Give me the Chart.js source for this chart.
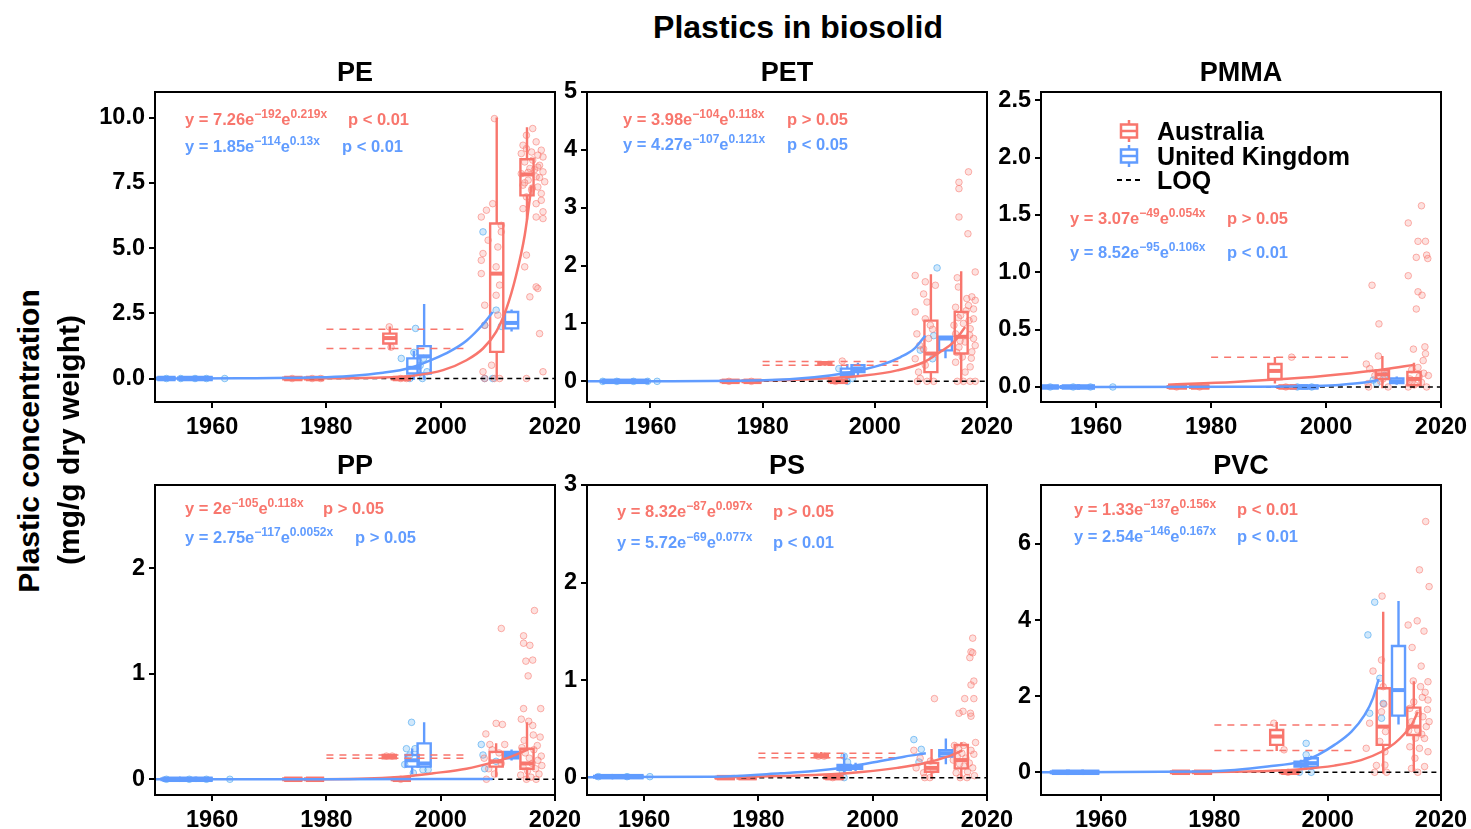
<!DOCTYPE html>
<html>
<head>
<meta charset="utf-8">
<script src="https://cdn.jsdelivr.net/npm/chart.js@4.4.1/dist/chart.umd.min.js"></script>
<style>
  html, body { margin:0; padding:0; background:#fff; }
  body { width:1471px; height:829px; position:relative; overflow:hidden;
         font-family:"Liberation Sans", Arial, Helvetica, sans-serif; }
  canvas { position:absolute; }
  .t { position:absolute; white-space:nowrap; font-weight:bold; color:#000; }
  .eq { position:absolute; white-space:pre; font-weight:bold; font-size:16.5px; line-height:20px; height:20px; }
  .eq .sp { font-size:12px; position:relative; top:-7px; }
</style>
</head>
<body>
<script>
// ---------------- DATA ----------------
const X_TICKS = [1960, 1980, 2000, 2020];
const REF_X = [1980, 2004.2];       // span of red dashed reference lines
const LOQ_X = [1977, 2020];         // span of black dashed LOQ line (y = 0)
const PANEL_NAMES = ["PE", "PET", "PMMA", "PP", "PS", "PVC"];

// boxes: [year, lower whisker, q1, median, q3, upper whisker]
// ---- PE ----
const PE_YTICKS = [0, 2.5, 5, 7.5, 10];
const PE_AU_BOX = [[1974.2,0,0,0,0,0],[1978.0,0,0,0,0,0],[1991.1,1.15,1.34,1.55,1.72,1.95],[1993.2,0,0,0,0,0],[2009.8,0,1.02,4.02,5.94,9.96],[2015.1,6.13,7.02,7.82,8.4,9.58]];
const PE_UK_BOX = [[1952.0,0,0,0,0,0],[1955.8,0,0,0,0,0],[1958.5,0,0,0,0,0],[1995.3,0,0.19,0.41,0.77,1.02],[1997.1,0,0.19,0.85,1.24,2.81],[2012.4,1.85,1.92,2.13,2.55,2.6]];
const PE_AU_CURVE = [[1972.4,0],[1989.9,0.04],[1995.7,0.12],[2000.4,0.32],[2004.5,0.7],[2007.4,1.15],[2009.7,1.79],[2011.5,2.68],[2013.2,3.96],[2014.7,5.49],[2015.9,7.4]];
const PE_UK_CURVE = [[1950,0],[1965,0.01],[1978.3,0.045],[1984.1,0.1],[1989.9,0.22],[1994.6,0.4],[1998.7,0.74],[2001.6,1.04],[2004.5,1.45],[2007.4,2.08],[2009.1,2.55]];
const PE_REF = [1.89, 1.15];
const PE_AU_PTS = [[2009.4,9.96],[2009.1,6.70],[2008.0,6.45],[2007.1,6.19],[2010.6,5.87],[2010.6,5.62],[2008.3,5.30],[2010.0,5.04],[2007.4,4.79],[2007.1,4.53],[2009.7,4.28],[2007.1,4.02],[2010.3,3.58],[2009.7,3.19],[2007.7,2.81],[2010.0,2.43],[2007.7,2.04],[2008.9,0.51],[2007.4,0.26],[2007.7,0],[2009.4,0],[2010.3,0],
 [2016.1,9.58],[2015.0,9.32],[2016.7,9.07],[2014.4,8.94],[2015.0,8.81],[2017.6,8.75],[2015.9,8.68],[2014.1,8.62],[2017.0,8.56],[2017.9,8.49],[2016.1,8.37],[2014.7,8.30],[2017.3,8.17],[2015.6,8.05],[2017.9,7.92],[2014.1,7.85],[2016.7,7.73],[2015.3,7.60],[2018.2,7.54],[2014.4,7.41],[2017.0,7.34],[2015.9,7.22],[2017.6,7.09],[2015.0,6.96],[2017.6,6.83],[2016.7,6.70],[2014.4,6.51],[2017.9,6.39],[2016.7,6.19],[2017.9,6.13],[2015.0,4.73],[2014.7,4.28],[2016.7,3.51],[2017.0,3.45],[2015.6,3.13],[2017.3,1.72],[2017.9,0.26],[2015.0,0],
 [2016.4,8.0],[2015.3,7.9],[2017.3,7.7],[2014.7,7.5],[2016.0,7.3],[2017.0,8.1],
 [1991.0,1.98],[1991.3,1.2],[1993.0,0],[1994.0,0],[1974.0,0],[1977.5,0],[1979.0,0]];
const PE_UK_PTS = [[1952.0,0],[1954.5,0],[1957.0,0],[1959.0,0],[1962.2,0],[1995.6,1.92],[1993.1,0.77],[1995.3,1.0],[1997.0,0.77],[1997.6,0.26],[1996.8,0],[1994.6,0],[1996.4,0.5],[2007.4,5.62],[2007.7,2.04],[2009.7,2.62],[2010.6,2.0],[2007.7,0],[2009.1,0]];
const PE_EQ_AU = ["7.26", "−192", "0.219x", "p < 0.01"];
const PE_EQ_UK = ["1.85", "−114", "0.13x", "p < 0.01"];

// ---- PET ----
const PET_YTICKS = [0, 1, 2, 3, 4, 5];
const PET_AU_BOX = [[1974.3,0,0,0,0,0],[1978.2,0,0,0,0,0],[1991.1,0.29,0.30,0.31,0.33,0.33],[1993.6,0,0,0,0,0],[2010.0,0,0.16,0.48,1.05,1.83],[2015.4,0,0.48,0.77,1.2,1.88]];
const PET_UK_BOX = [[1953.0,0,0,0,0,0],[1955.5,0,0,0,0,0],[1958.2,0,0,0,0,0],[1995.1,0.05,0.1,0.14,0.22,0.28],[1997.0,0.12,0.16,0.22,0.28,0.3],[2012.6,0.42,0.535,0.74,0.77,0.77]];
const PET_AU_CURVE = [[1972.6,0],[1989.2,0.04],[1998.1,0.1],[2004.0,0.19],[2008.7,0.33],[2011.7,0.51],[2014.1,0.68],[2016.1,0.94]];
const PET_UK_CURVE = [[1948.7,0],[1980.3,0.02],[1989.2,0.07],[1995.1,0.15],[2001.0,0.28],[2004.6,0.42],[2007.0,0.56],[2009.0,0.79]];
const PET_REF = [0.345, 0.276];
const PET_AU_PTS = [[2007.2,1.83],[2009.0,1.72],[2010.8,1.66],[2008.7,1.51],[2009.3,1.37],[2007.2,1.2],[2009.0,1.08],[2009.9,0.97],[2007.5,0.82],[2009.6,0.74],[2008.7,0.56],[2007.2,0.39],[2009.0,0.28],[2007.8,0.16],[2008.1,0.05],[2009.3,0],[2010.5,0],[2007.6,0],[2010.3,0.9],[2008.0,0.62],
 [2016.7,3.62],[2015.0,3.44],[2015.0,3.33],[2015.0,2.84],[2016.6,2.55],[2017.9,1.89],[2014.7,1.79],[2014.9,1.63],[2017.3,1.46],[2017.9,1.40],[2016.7,1.31],[2014.4,1.28],[2015.3,1.14],[2017.6,1.08],[2015.8,1.0],[2017.0,0.91],[2014.4,0.82],[2017.6,0.74],[2016.1,0.68],[2015.0,0.59],[2017.3,0.51],[2015.6,0.42],[2014.4,0.33],[2017.0,0.25],[2016.1,0.16],[2014.7,0],[2015.8,0],[2017.0,0],[2017.9,0],[2017.9,0.62],[2014.1,0.97],[2016.4,1.43],[2017.6,1.25],[2016.9,0.8],[2014.9,1.1],[2016.3,1.22],[2017.2,0.4],[2015.2,0.7],[2016.8,1.05],[2014.6,0.5],
 [1994.2,0.35],[1993.0,0],[1974.0,0],[1978.0,0]];
const PET_UK_PTS = [[1951.5,0],[1954.0,0],[1957.0,0],[1959.5,0],[1961.2,0],[1993.6,0.22],[1994.5,0.09],[1995.1,0],[1996.0,0.05],[2011.1,1.96],[2010.5,0.79],[2008.1,0.54],[2010.3,0.39]];
const PET_EQ_AU = ["3.98", "−104", "0.118x", "p > 0.05"];
const PET_EQ_UK = ["4.27", "−107", "0.121x", "p < 0.05"];

// ---- PMMA ----
const PMMA_YTICKS = [0, 0.5, 1, 1.5, 2, 2.5];
const PMMA_AU_BOX = [[1974.2,0,0,0,0,0],[1978.1,0,0,0,0,0],[1991.1,0.04,0.07,0.14,0.2,0.25],[1993.3,0,0,0,0,0],[2009.8,0,0.07,0.11,0.145,0.26],[2015.3,0,0.015,0.07,0.13,0.2]];
const PMMA_UK_BOX = [[1951.9,0,0,0,0,0],[1955.6,0,0,0,0,0],[1958.2,0,0,0,0,0],[1995.3,0,0,0,0,0],[1997.1,0,0,0,0,0],[2012.3,0.03,0.035,0.05,0.075,0.08]];
const PMMA_AU_CURVE = [[1972.5,0.02],[1984.0,0.044],[1995.7,0.08],[2004.4,0.12],[2010.2,0.154],[2015.4,0.195]];
const PMMA_UK_CURVE = [[1950.4,0],[1985,0.002],[1995.7,0.006],[2001.6,0.015],[2005.0,0.03],[2007.3,0.044],[2009.1,0.06]];
const PMMA_REF = [0.26];
const PMMA_AU_PTS = [[2008.0,0.887],[2009.2,0.55],[2009.1,0.27],[2007.0,0.2],[2007.6,0.16],[2010.2,0.13],[2008.5,0.1],[2009.9,0.07],[2007.3,0.03],[2010.8,0],[2007.4,0],[2009.5,0.05],
 [2016.6,1.58],[2014.3,1.43],[2016.0,1.27],[2017.3,1.27],[2015.7,1.13],[2017.5,1.15],[2017.7,1.12],[2014.3,0.97],[2016.0,0.83],[2016.7,0.8],[2015.7,0.68],[2017.2,0.35],[2015.2,0.33],[2017.3,0.29],[2016.9,0.23],[2016.0,0.17],[2014.9,0.15],[2017.8,0.1],[2014.6,0.07],[2016.6,0.04],[2015.4,0.02],[2017.5,0],[2014.3,0],[2016.2,0.09],[2017.0,0.12],[2015.0,0.05],
 [1994.0,0.26],[1993.0,0],[1974.0,0],[1978.0,0]];
const PMMA_UK_PTS = [[1962.9,0],[1952.0,0],[1956.0,0],[1959.0,0],[2008.2,0.06],[2010.2,0.1],[2008.8,0.03],[1995.0,0],[1997.5,0]];
const PMMA_EQ_AU = ["3.07", "−49", "0.054x", "p > 0.05"];
const PMMA_EQ_UK = ["8.52", "−95", "0.106x", "p < 0.01"];

// ---- PP ----
const PP_YTICKS = [0, 1, 2];
const PP_AU_BOX = [[1974.2,0,0,0,0,0],[1978.0,0,0,0,0,0],[1991.0,0.2,0.2,0.215,0.23,0.23],[1993.2,0,0,0,0,0],[2009.7,0.03,0.12,0.17,0.26,0.33],[2015.1,0,0.1,0.15,0.29,0.53]];
const PP_UK_BOX = [[1952.9,0,0,0,0,0],[1955.8,0,0,0,0,0],[1958.5,0,0,0,0,0],[1995.0,0.06,0.12,0.18,0.23,0.28],[1997.1,0.12,0.12,0.15,0.34,0.53],[2012.4,0.19,0.2,0.23,0.26,0.27]];
const PP_AU_CURVE = [[1973.0,0],[1985.8,0.005],[1993.4,0.025],[1998.7,0.057],[2004.5,0.1],[2009.1,0.16],[2012.1,0.21],[2015.6,0.29]];
const PP_UK_CURVE = [[1950,0],[1980,0.001],[2000,0.002],[2009.1,0.003]];
const PP_REF = [0.23, 0.2];
const PP_AU_PTS = [[2016.4,1.6],[2010.6,1.43],[2014.5,1.36],[2015.6,1.27],[2014.5,1.29],[2014.9,1.12],[2016.1,1.13],[2015.3,0.98],[2014.5,0.67],[2017.5,0.67],[2014.1,0.57],[2015.4,0.55],[2016.1,0.51],[2009.7,0.53],[2010.8,0.52],[2007.9,0.43],[2008.6,0.33],[2011.2,0.33],
 [2014.2,0.3],[2014.8,0.25],[2015.5,0.2],[2016.0,0.15],[2016.6,0.1],[2017.2,0.05],[2017.6,0.22],[2014.4,0.12],[2015.2,0.08],[2016.3,0.28],[2017.0,0.18],[2014.0,0.04],[2015.8,0.02],[2016.9,0.32],[2017.7,0.13],[2014.6,0.37],[2016.2,0.42],[2015.0,0],[2016.7,0],[2017.4,0.4],
 [2007.6,0.2],[2008.4,0.1],[2009.4,0.05],[2010.2,0.25],[2008.0,0],[2010.6,0.15],[2009.0,0.28],
 [1990.5,0.22],[1991.5,0.22],[1993.0,0]];
const PP_UK_PTS = [[1963.1,0],[1952.0,0],[1956.0,0],[1959.0,0],[1994.9,0.54],[1994.0,0.29],[1995.5,0.29],[1994.6,0.23],[1993.7,0.14],[1995.2,0.06],[1996.9,0.09],[1997.8,0.09],[2007.1,0.33],[2007.4,0.23],[2009.7,0.17],[2007.7,0.1]];
const PP_EQ_AU = ["2", "−105", "0.118x", "p > 0.05"];
const PP_EQ_UK = ["2.75", "−117", "0.0052x", "p > 0.05"];

// ---- PS ----
const PS_YTICKS = [0, 1, 2, 3];
const PS_AU_BOX = [[1974.3,0,0,0,0,0],[1978.1,0,0,0,0,0],[1991.0,0.205,0.21,0.22,0.235,0.25],[1993.3,0,0,0,0,0],[2010.3,0,0.06,0.1,0.15,0.28],[2015.5,0,0.095,0.18,0.335,0.35]];
const PS_UK_BOX = [[1953.0,0.01,0.01,0.01,0.01,0.01],[1955.9,0.01,0.01,0.01,0.01,0.01],[1958.3,0.01,0.01,0.01,0.01,0.01],[1995.0,0.06,0.08,0.1,0.13,0.23],[1997.0,0.08,0.09,0.1,0.12,0.14],[2012.8,0.15,0.215,0.25,0.28,0.39]];
const PS_AU_CURVE = [[1972.3,0],[1983.9,0.017],[1992.7,0.034],[1998.5,0.06],[2004.3,0.1],[2009.0,0.147],[2013.1,0.215],[2015.7,0.28]];
const PS_UK_CURVE = [[1950,0.005],[1972.3,0.01],[1983.9,0.044],[1989.7,0.068],[1995.6,0.11],[2001.4,0.17],[2005.5,0.215],[2009.3,0.25]];
const PS_REF = [0.25, 0.205];
const PS_AU_PTS = [[2017.5,1.43],[2017.2,1.29],[2017.5,1.28],[2017.0,1.23],[2017.7,0.99],[2017.2,0.95],[2016.1,0.81],[2017.7,0.81],[2015.1,0.66],[2015.8,0.68],[2017.1,0.66],[2017.2,0.63],[2018.0,0.36],
 [2014.3,0.33],[2015.0,0.3],[2015.6,0.25],[2016.3,0.2],[2016.9,0.15],[2017.5,0.1],[2014.6,0.05],[2015.3,0],[2016.5,0],[2017.8,0.02],[2014.1,0.18],[2016.0,0.12],[2017.2,0.28],[2015.9,0.33],[2014.8,0.22],[2016.6,0.06],[2017.7,0.24],[2015.2,0.14],
 [2010.8,0.81],[2007.2,0.28],[2008.3,0.2],[2010.1,0.17],[2010.6,0.08],[2009.1,0],[2007.6,0.1],[2008.9,0.05],[2010.0,0],
 [1991.5,0.22],[1990.5,0.22],[1993.0,0]];
const PS_UK_PTS = [[2007.2,0.39],[2008.5,0.29],[2008.1,0.16],[1995.0,0.22],[1995.6,0.16],[1994.7,0.06],[1995.0,0],[1961.0,0.01],[1952.0,0.01],[1957.0,0.01]];
const PS_EQ_AU = ["8.32", "−87", "0.097x", "p > 0.05"];
const PS_EQ_UK = ["5.72", "−69", "0.077x", "p < 0.01"];

// ---- PVC ----
const PVC_YTICKS = [0, 2, 4, 6];
const PVC_AU_BOX = [[1974.1,0,0,0,0,0],[1978.0,0,0,0,0,0],[1991.0,0.59,0.72,0.94,1.11,1.29],[1993.4,0,0,0,0,0],[2009.8,0,0.72,1.2,2.21,4.19],[2015.2,0.06,0.98,1.2,1.7,2.36]];
const PVC_UK_BOX = [[1952.9,0,0,0,0,0],[1955.4,0,0,0,0,0],[1958.1,0,0,0,0,0],[1995.3,0.1,0.15,0.2,0.28,0.3],[1997.1,0.1,0.15,0.24,0.37,0.4],[2012.5,1.29,1.49,2.16,3.32,4.47]];
const PVC_AU_CURVE = [[1972.4,0],[1989.4,0.035],[1995.3,0.08],[2001.2,0.175],[2005.9,0.32],[2009.5,0.54],[2011.8,0.76],[2013.6,1.02],[2014.8,1.24],[2015.9,1.59]];
const PVC_UK_CURVE = [[1949.4,0],[1978.2,0.02],[1983.6,0.06],[1989.4,0.15],[1995.3,0.28],[1998.3,0.46],[2001.2,0.72],[2004.2,1.07],[2006.5,1.5],[2008.0,1.95],[2009.0,2.45]];
const PVC_REF = [1.24, 0.57];
const PVC_AU_PTS = [[2009.6,4.63],[2009.5,2.95],[2008.0,2.66],[2009.8,2.25],[2009.9,1.79],[2009.5,1.59],[2007.4,1.29],[2010.2,1.07],[2009.2,0.81],[2006.8,0.63],[2010.1,0.54],[2008.6,0.18],[2010.4,0],[2008.3,0],[2010.1,0.19],
 [2017.3,6.59],[2016.2,5.32],[2017.9,4.88],[2014.2,3.87],[2015.8,3.98],[2017.0,3.71],[2014.9,3.28],[2016.5,2.79],[2015.1,2.4],[2016.4,2.25],[2017.7,2.38],[2016.7,1.97],[2017.7,1.9],[2014.5,1.68],[2016.8,1.46],[2017.9,1.33],[2014.8,1.33],[2015.9,1.11],[2017.1,0.89],[2014.5,0.67],[2016.2,0.63],[2017.7,0.54],[2015.4,0.37],[2017.1,0.15],[2015.9,0],[2014.8,0.1],[2017.4,1.2],[2016.0,1.55],[2015.5,0.9],[2017.6,1.65],[2014.3,1.1],[2016.6,1.0],[2017.2,2.1],[2015.2,1.85],
 [1990.5,1.29],[1992.3,0.59],[1993.0,0]];
const PVC_UK_PTS = [[2008.3,4.47],[2007.1,3.61],[2009.8,1.81],[2009.5,1.42],[2007.4,1.55],[2009.2,2.47],[1996.2,0.76],[1996.2,0.46],[1995.0,0],[1997.1,0]];
const PVC_EQ_AU = ["1.33", "−137", "0.156x", "p < 0.01"];
const PVC_EQ_UK = ["2.54", "−146", "0.167x", "p < 0.01"];

// ---------------- STYLE / LAYOUT ----------------
const RED = '#F8766D', BLUE = '#619CFF';
const FONT = '"Liberation Sans", Arial, Helvetica, sans-serif';
const BOX_W = 2.3, FLAT_W = 3.2;
const YW = 80, PADT = 20, PADR = 40, XH = 45;

const LAYOUT = {
  PE:   {L:155,  T:92,  R:555,  B:402, x0:1950,   y:[-0.9, 10.98],  yt:PE_YTICKS,  dec:1,
         au:[PE_AU_BOX, PE_AU_CURVE, PE_AU_PTS, PE_EQ_AU], uk:[PE_UK_BOX, PE_UK_CURVE, PE_UK_PTS, PE_EQ_UK], ref:PE_REF,
         eqAU:[185,119,348], eqUK:[185,146,342]},
  PET:  {L:587,  T:92,  R:987,  B:402, x0:1948.7, y:[-0.357, 5.0], yt:PET_YTICKS, dec:0,
         au:[PET_AU_BOX, PET_AU_CURVE, PET_AU_PTS, PET_EQ_AU], uk:[PET_UK_BOX, PET_UK_CURVE, PET_UK_PTS, PET_EQ_UK], ref:PET_REF,
         eqAU:[623,119,787], eqUK:[623,144,787]},
  PMMA: {L:1041, T:92,  R:1441, B:402, x0:1950.4, y:[-0.131, 2.572], yt:PMMA_YTICKS, dec:1,
         au:[PMMA_AU_BOX, PMMA_AU_CURVE, PMMA_AU_PTS, PMMA_EQ_AU], uk:[PMMA_UK_BOX, PMMA_UK_CURVE, PMMA_UK_PTS, PMMA_EQ_UK], ref:PMMA_REF,
         eqAU:[1070,218,1227], eqUK:[1070,252,1227]},
  PP:   {L:155,  T:485, R:555,  B:795, x0:1950,   y:[-0.149, 2.79], yt:PP_YTICKS, dec:0,
         au:[PP_AU_BOX, PP_AU_CURVE, PP_AU_PTS, PP_EQ_AU], uk:[PP_UK_BOX, PP_UK_CURVE, PP_UK_PTS, PP_EQ_UK], ref:PP_REF,
         eqAU:[185,508,323], eqUK:[185,537,355]},
  PS:   {L:587,  T:485, R:987,  B:795, x0:1950,   y:[-0.178, 3.0], yt:PS_YTICKS, dec:0,
         au:[PS_AU_BOX, PS_AU_CURVE, PS_AU_PTS, PS_EQ_AU], uk:[PS_UK_BOX, PS_UK_CURVE, PS_UK_PTS, PS_EQ_UK], ref:PS_REF,
         eqAU:[617,511,773], eqUK:[617,542,773]},
  PVC:  {L:1041, T:485, R:1441, B:795, x0:1949.4, y:[-0.597, 7.55], yt:PVC_YTICKS, dec:0,
         au:[PVC_AU_BOX, PVC_AU_CURVE, PVC_AU_PTS, PVC_EQ_AU], uk:[PVC_UK_BOX, PVC_UK_CURVE, PVC_UK_PTS, PVC_EQ_UK], ref:PVC_REF,
         eqAU:[1074,509,1237], eqUK:[1074,536,1237]}
};

function xy(arr) { return arr.map(p => ({x:p[0], y:p[1]})); }

function boxSets(boxes, color) {
  const out = [];
  boxes.forEach(b => {
    const [x, lo, q1, med, q3, hi] = b;
    const flat = (q3 - q1) < 1e-9;
    const hw = (flat ? FLAT_W : BOX_W) / 2;
    const gap = {x: x, y: null};
    out.push({ type:'scatter', showLine:true, spanGaps:false, pointRadius:0, borderColor:color, borderWidth: flat ? 4 : 2.4,
      borderCapStyle:'square', borderJoinStyle:'miter', order:3,
      data:[{x:x-hw,y:q1},{x:x+hw,y:q1},{x:x+hw,y:q3},{x:x-hw,y:q3},{x:x-hw,y:q1}, gap, {x:x,y:q3},{x:x,y:hi}, gap, {x:x,y:q1},{x:x,y:lo}] });
    out.push({ type:'scatter', showLine:true, pointRadius:0, borderColor:color, borderWidth: flat ? 5.5 : 4, order:3,
      borderCapStyle:'butt', data:[{x:x-hw,y:med},{x:x+hw,y:med}] });
  });
  return out;
}

function curveSet(arr, color) {
  return { type:'scatter', showLine:true, pointRadius:0, borderColor:color, borderWidth:2.5,
    cubicInterpolationMode:'monotone', order:0, data: xy(arr) };
}
function ptsSet(arr, border, fill) {
  return { type:'scatter', showLine:false, pointRadius:3.3, borderWidth:1, pointBorderColor:border, pointBackgroundColor:fill,
    borderColor:border, backgroundColor:fill, order:4, data: xy(arr) };
}

const framePlugin = {
  id:'frame',
  afterDraw(chart) {
    const {ctx, chartArea:a} = chart;
    ctx.save(); ctx.strokeStyle = '#000'; ctx.lineWidth = 2;
    ctx.strokeRect(a.left, a.top, a.right - a.left, a.bottom - a.top);
    ctx.restore();
  }
};

function addDiv(cls, text, style) {
  const d = document.createElement('div');
  d.className = cls; d.textContent = text; Object.assign(d.style, style);
  document.body.appendChild(d); return d;
}
function addEq(pos, eq, color) {
  const d = document.createElement('div');
  d.className = 'eq';
  d.style.left = pos[0] + 'px'; d.style.top = (pos[1] - 10) + 'px'; d.style.color = color;
  d.append('y = ' + eq[0] + 'e');
  const s1 = document.createElement('span'); s1.className = 'sp'; s1.textContent = eq[1]; d.append(s1);
  d.append('e');
  const s2 = document.createElement('span'); s2.className = 'sp'; s2.textContent = eq[2]; d.append(s2);
  document.body.appendChild(d);
  const p = document.createElement('div');
  p.className = 'eq'; p.textContent = eq[3];
  p.style.left = pos[2] + 'px'; p.style.top = (pos[1] - 10) + 'px'; p.style.color = color;
  document.body.appendChild(p);
}

PANEL_NAMES.forEach(name => {
  const P = LAYOUT[name];
  const cv = document.createElement('canvas');
  const W = (P.R - P.L) + YW + PADR, H = (P.B - P.T) + PADT + XH;
  cv.width = W; cv.height = H;
  cv.style.left = (P.L - YW) + 'px'; cv.style.top = (P.T - PADT) + 'px';
  cv.style.width = W + 'px'; cv.style.height = H + 'px';
  document.body.appendChild(cv);

  const datasets = [];
  datasets.push(curveSet(P.uk[1], BLUE));
  datasets.push(curveSet(P.au[1], RED));
  datasets.push({ type:'scatter', showLine:true, pointRadius:0, borderColor:'#000', borderWidth:1.5, borderDash:[5,4], order:1,
    data:[{x:LOQ_X[0], y:0},{x:LOQ_X[1], y:0}] });
  P.ref.forEach(v => datasets.push({ type:'scatter', showLine:true, pointRadius:0, borderColor:RED, borderWidth:1.5, borderDash:[7,6], order:2,
    data:[{x:REF_X[0], y:v},{x:REF_X[1], y:v}] }));
  boxSets(P.au[0], RED).forEach(d => datasets.push(d));
  boxSets(P.uk[0], BLUE).forEach(d => datasets.push(d));
  datasets.push(ptsSet(P.au[2], 'rgba(248,118,109,0.55)', 'rgba(248,118,109,0.22)'));
  datasets.push(ptsSet(P.uk[2], 'rgba(70,165,240,0.6)', 'rgba(70,165,240,0.25)'));

  new Chart(cv, {
    type:'scatter',
    data:{ datasets },
    options:{
      responsive:false, animation:false, devicePixelRatio:1,
      layout:{ padding:{ left:0, top:PADT, right:PADR, bottom:0 } },
      plugins:{ legend:{display:false}, tooltip:{enabled:false}, title:{display:false} },
      elements:{ line:{ tension:0 } },
      scales:{
        x:{ type:'linear', min:P.x0, max:2020,
            afterBuildTicks: s => { s.ticks = X_TICKS.map(v => ({value:v})); },
            afterFit: s => { s.height = XH; },
            grid:{ display:true, drawOnChartArea:false, drawTicks:true, tickLength:6, color:'#000', lineWidth:2 },
            border:{ display:false },
            ticks:{ color:'#000', padding:5, maxRotation:0, autoSkip:false, font:{ family:FONT, weight:'bold', size:23.5 },
                    callback: v => String(v) } },
        y:{ type:'linear', min:P.y[0], max:P.y[1],
            afterBuildTicks: s => { s.ticks = P.yt.map(v => ({value:v})); },
            afterFit: s => { s.width = YW; },
            grid:{ display:true, drawOnChartArea:false, drawTicks:true, tickLength:6, color:'#000', lineWidth:2 },
            border:{ display:false },
            ticks:{ color:'#000', padding:4, autoSkip:false, font:{ family:FONT, weight:'bold', size:23.5 },
                    callback: v => Number(v).toFixed(P.dec) } }
      }
    },
    plugins:[framePlugin]
  });

  // panel title
  addDiv('t', name, { left:((P.L + P.R)/2) + 'px', top:(P.T - 20) + 'px', fontSize:'27px',
    transform:'translate(-50%,-50%)', lineHeight:'30px' });
  addEq(P.eqAU, P.au[3], RED);
  addEq(P.eqUK, P.uk[3], BLUE);
});

// main title & y-axis label
addDiv('t', 'Plastics in biosolid', { left:'798px', top:'27px', fontSize:'32px', transform:'translate(-50%,-50%)', lineHeight:'36px' });
addDiv('t', 'Plastic concentration', { left:'29px', top:'441px', fontSize:'30px', transform:'translate(-50%,-50%) rotate(-90deg)', lineHeight:'34px' });
addDiv('t', '(mg/g dry weight)', { left:'69px', top:'440px', fontSize:'30px', transform:'translate(-50%,-50%) rotate(-90deg)', lineHeight:'34px' });

// legend (inside PMMA panel)
const LEG = ["Australia", "United Kingdom", "LOQ"];
const legY = [131, 156, 180];
LEG.forEach((t, i) => addDiv('t', t, { left:'1157px', top:(legY[i] - 15) + 'px', fontSize:'25px', lineHeight:'30px' }));
const svgNS = 'http://www.w3.org/2000/svg';
const svg = document.createElementNS(svgNS, 'svg');
svg.setAttribute('width', '40'); svg.setAttribute('height', '80');
svg.style.position = 'absolute'; svg.style.left = '1110px'; svg.style.top = '112px';
function sv(tag, attrs) { const e = document.createElementNS(svgNS, tag); for (const k in attrs) e.setAttribute(k, attrs[k]); svg.appendChild(e); }
[[RED, 19], [BLUE, 44]].forEach(([c, cy]) => {
  sv('rect', {x:11, y:cy-6.5, width:16, height:13, fill:'none', stroke:c, 'stroke-width':2.5});
  sv('line', {x1:11, x2:27, y1:cy, y2:cy, stroke:c, 'stroke-width':2.5});
  sv('line', {x1:19, x2:19, y1:cy-11, y2:cy-6.5, stroke:c, 'stroke-width':2.5});
  sv('line', {x1:19, x2:19, y1:cy+6.5, y2:cy+11, stroke:c, 'stroke-width':2.5});
});
sv('line', {x1:7, x2:32, y1:68, y2:68, stroke:'#000', 'stroke-width':1.8, 'stroke-dasharray':'5,4'});
document.body.appendChild(svg);
</script>
</body>
</html>
